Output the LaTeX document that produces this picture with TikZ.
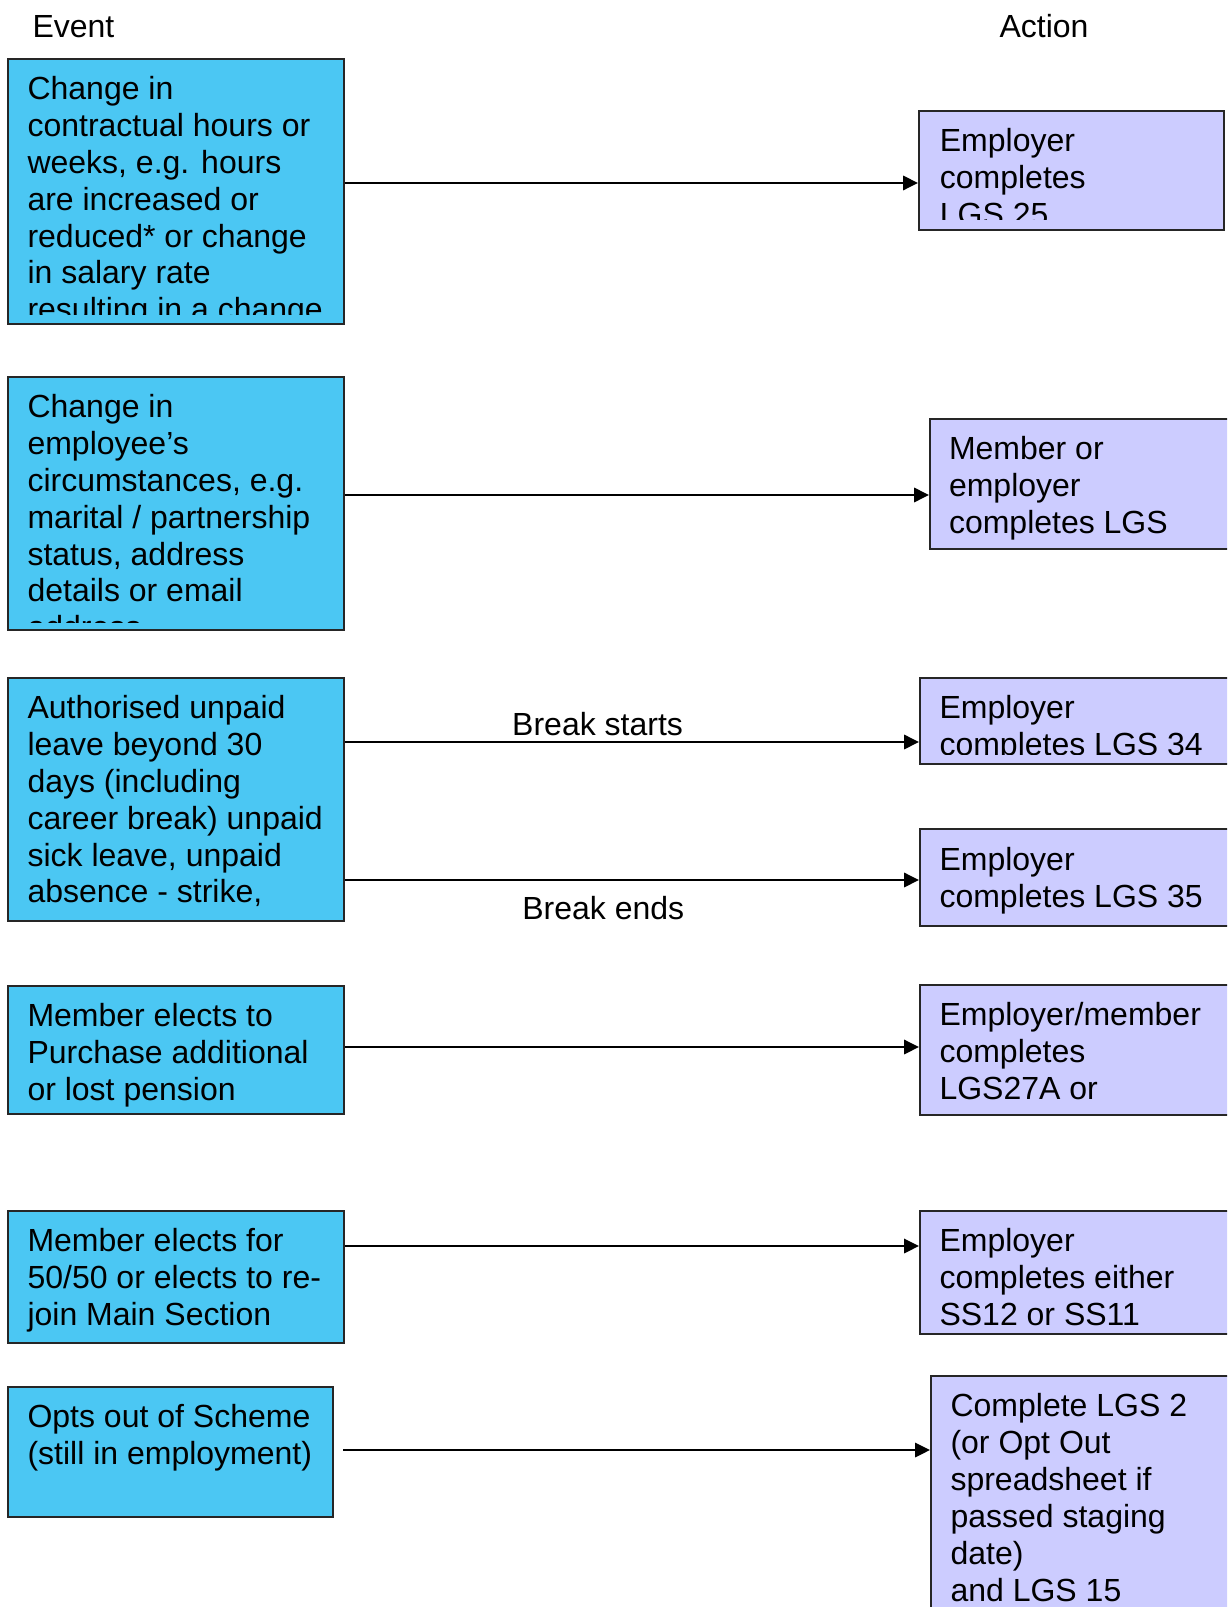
\documentclass[tikz,border=0pt]{standalone}
\usepackage{fontspec}
\setmainfont{Liberation Sans}
\usetikzlibrary{arrows.meta}

\definecolor{eventblue}{RGB}{75,199,243}
\definecolor{actionlilac}{RGB}{204,204,255}

\begin{document}
\begin{tikzpicture}[
    x=0.375pt, y=-0.375pt,
    every node/.style={font=\fontsize{12}{13.85}\selectfont},
    event/.style={
        draw=black!85,
        line width=0.75pt,
        fill=eventblue,
        anchor=north west,
        inner sep=0pt,
        minimum width=126pt
    },
    action/.style={
        draw=black!85,
        line width=0.75pt,
        fill=actionlilac,
        anchor=north west,
        inner sep=0pt,
        minimum width=116.25pt
    },
    boxtext/.style={
        anchor=north west,
        align=left,
        inner sep=0pt
    },
    lbl/.style={inner sep=0pt},
    arr/.style={-{Triangle[length=5.6pt,width=5.4pt]}, line width=0.75pt}
]

    % page frame
    \clip (0,0) rectangle (1227,1607);

    % column headings
    \node[lbl, anchor=base west] (evhead) at (32,38) {Event};
    \node[lbl, anchor=base west] (acthead) at (999,38) {Action};

    % event boxes
    \node[event, minimum height=99.4pt] (ev1) at (7,58) {};
    \node[event, minimum height=94.9pt] (ev2) at (7,376) {};
    \node[event, minimum height=91.1pt] (ev3) at (7,677) {};
    \node[event, minimum height=48pt] (ev4) at (7,985) {};
    \node[event, minimum height=49.5pt] (ev5) at (7,1210) {};
    \node[event, minimum height=48.75pt, minimum width=121.9pt] (ev6) at (7,1386) {};

    % action boxes
    \node[action, minimum height=44.6pt, minimum width=114.4pt] (act1) at (918,110) {};
    \node[action, minimum height=48.75pt] (act2) at (929,418) {};
    \node[action, minimum height=32.25pt] (act3a) at (919,677) {};
    \node[action, minimum height=36.4pt] (act3b) at (919,828) {};
    \node[action, minimum height=48.75pt] (act4) at (919,984) {};
    \node[action, minimum height=46.1pt] (act5) at (919,1210) {};
    \node[action, minimum height=97.5pt] (act6) at (930,1375) {};

    % event texts
    \begin{scope}
        \clip (ev1.north west) rectangle ([yshift=4.1pt]ev1.south east);
        \node[boxtext] (ev1txt) at ([xshift=7.5pt,yshift=-6.6pt]ev1.north west)
            {Change in\\contractual hours or\\weeks, e.g. hours\\are increased or\\reduced* or change\\in salary rate\\resulting in a change};
    \end{scope}
    \begin{scope}
        \clip (ev2.north west) rectangle ([yshift=3.3pt]ev2.south east);
        \node[boxtext] (ev2txt) at ([xshift=7.5pt,yshift=-6.6pt]ev2.north west)
            {Change in\\employee’s\\circumstances, e.g.\\marital / partnership\\status, address\\details or email\\address};
    \end{scope}
    \node[boxtext] (ev3txt) at ([xshift=7.5pt,yshift=-6.6pt]ev3.north west)
        {Authorised unpaid\\leave beyond 30\\days (including\\career break) unpaid\\sick leave, unpaid\\absence - strike,};
    \node[boxtext] (ev4txt) at ([xshift=7.5pt,yshift=-6.6pt]ev4.north west)
        {Member elects to\\Purchase additional\\or lost pension};
    \node[boxtext] (ev5txt) at ([xshift=7.5pt,yshift=-6.6pt]ev5.north west)
        {Member elects for\\50/50 or elects to re-\\join Main Section};
    \node[boxtext] (ev6txt) at ([xshift=7.5pt,yshift=-6.6pt]ev6.north west)
        {Opts out of Scheme\\(still in employment)};

    % action texts
    \begin{scope}
        \clip (act1.north west) rectangle ([yshift=4.1pt]act1.south east);
        \node[boxtext] (act1txt) at ([xshift=8pt,yshift=-6.6pt]act1.north west)
            {Employer\\completes\\LGS 25};
    \end{scope}
    \node[boxtext] (act2txt) at ([xshift=7.3pt,yshift=-6.6pt]act2.north west)
        {Member or\\employer\\completes LGS};
    \begin{scope}
        \clip (act3a.north west) rectangle ([yshift=4.1pt]act3a.south east);
        \node[boxtext] (act3atxt) at ([xshift=7.5pt,yshift=-6.6pt]act3a.north west)
            {Employer\\completes LGS 34};
    \end{scope}
    \node[boxtext] (act3btxt) at ([xshift=7.5pt,yshift=-6.9pt]act3b.north west)
        {Employer\\completes LGS 35};
    \node[boxtext] (act4txt) at ([xshift=7.5pt,yshift=-6.6pt]act4.north west)
        {Employer/member\\completes\\LGS27A or};
    \node[boxtext] (act5txt) at ([xshift=7.5pt,yshift=-6.6pt]act5.north west)
        {Employer\\completes either\\SS12 or SS11};
    \node[boxtext] (act6txt) at ([xshift=7.5pt,yshift=-6.6pt]act6.north west)
        {Complete LGS 2\\(or Opt Out\\spreadsheet if\\passed staging\\date)\\and LGS 15};

    % arrow levels
    \coordinate (r1) at (0,183);
    \coordinate (r2) at (0,495);
    \coordinate (r3a) at (0,742);
    \coordinate (r3b) at (0,880);
    \coordinate (r4) at (0,1047);
    \coordinate (r5) at (0,1246);
    \coordinate (optstart) at (343,1450);

    % arrows
    \draw[arr] (ev1.east |- r1) -- (act1.west |- r1);
    \draw[arr] (ev2.east |- r2) -- (act2.west |- r2);
    \draw[arr] (ev3.east |- r3a) -- node[lbl, pos=0.44, above=2pt] (brkstart) {Break starts} (act3a.west |- r3a);
    \draw[arr] (ev3.east |- r3b) -- node[lbl, pos=0.45, below=5.6pt] (brkend) {Break ends} (act3b.west |- r3b);
    \draw[arr] (ev4.east |- r4) -- (act4.west |- r4);
    \draw[arr] (ev5.east |- r5) -- (act5.west |- r5);
    \draw[arr] (optstart) -- (act6.west |- optstart);

\end{tikzpicture}
\end{document}
